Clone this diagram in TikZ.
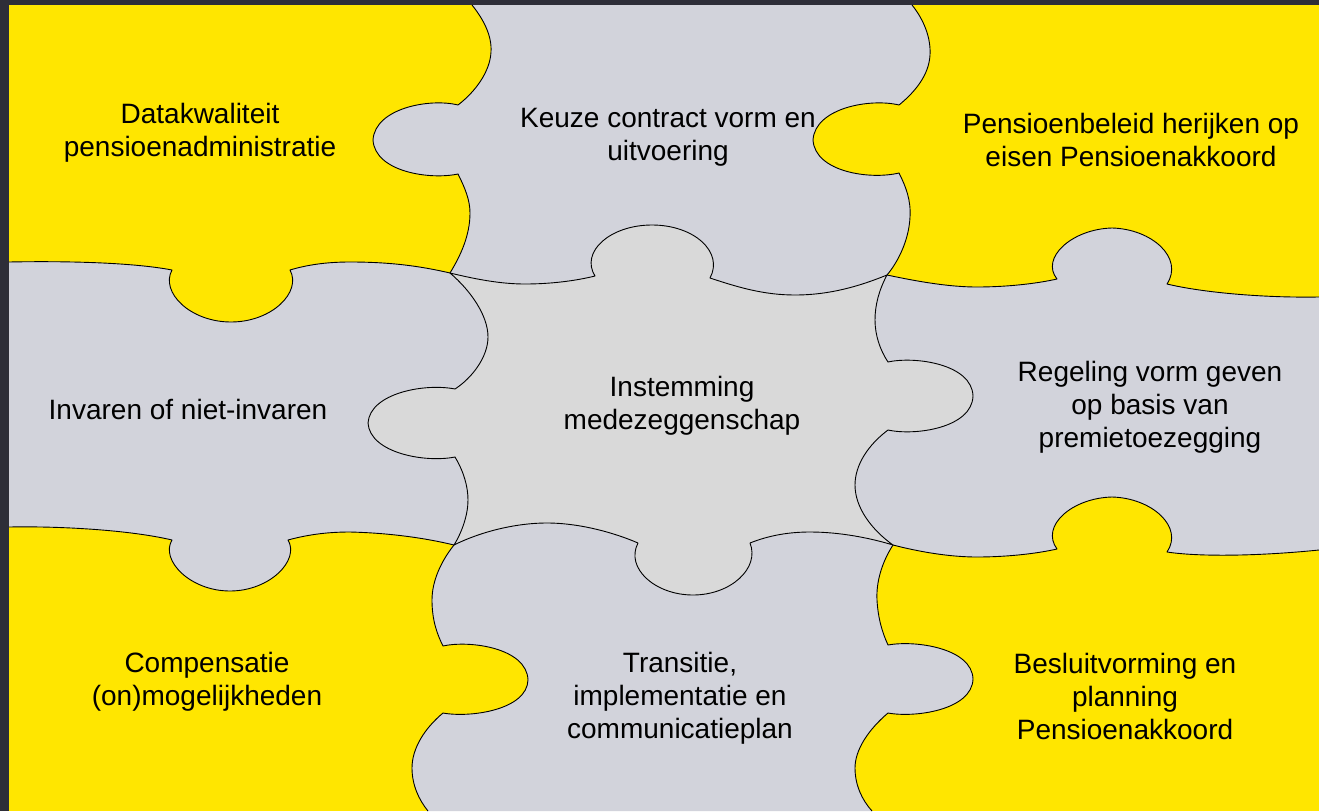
\documentclass[tikz,border=0pt]{standalone}
\usepackage{fontspec}
\setmainfont{Liberation Sans}
\definecolor{bgdark}{HTML}{2E2E38}
\definecolor{eyyellow}{HTML}{FFE600}
\definecolor{piecegray}{HTML}{D2D3DB}
\definecolor{centergray}{HTML}{D9D9D9}
\def\bTCTR{.. controls (924,20) and (931,38) .. (930,55) .. controls (929,75) and (915,92) .. (899,105) .. controls (870,98) and (815,108) .. (813,140) .. controls (815,172) and (870,180) .. (899,173) .. controls (906,187) and (911,200) .. (910,217) .. controls (909,240) and (898,262) .. (887,275)}
\def\bTRMR{.. controls (920,282) and (950,287) .. (977,287) .. controls (1005,287) and (1035,284) .. (1057,279) .. controls (1040,258) and (1072,229) .. (1112,228) .. controls (1152,229) and (1184,258) .. (1167,284) .. controls (1200,292) and (1260,298) .. (1319,297)}
\def\bBRMR{.. controls (1260,556) and (1200,557) .. (1167,552) .. controls (1184,527) and (1152,498) .. (1112,497) .. controls (1072,498) and (1040,526) .. (1057,549) .. controls (1035,554) and (1005,557) .. (977,557) .. controls (950,557) and (920,552) .. (893,545)}
\def\bBCBR{.. controls (882,562) and (876,582) .. (877,600) .. controls (878,618) and (882,632) .. (888,645) .. controls (915,640) and (972,648) .. (973,679) .. controls (972,710) and (915,718) .. (888,713) .. controls (868,730) and (855,750) .. (855,768) .. controls (855,785) and (862,800) .. (872,811)}
\def\bBLBC{.. controls (419,800) and (412,785) .. (412,768) .. controls (412,748) and (425,728) .. (443,713) .. controls (470,718) and (527,710) .. (528,680) .. controls (527,648) and (470,640) .. (443,646) .. controls (437,634) and (432,620) .. (432,600) .. controls (432,580) and (442,560) .. (454,545)}
\def\bMLBL{.. controls (425,538) and (390,533) .. (350,532) .. controls (330,532) and (310,534) .. (288,540) .. controls (300,560) and (270,591) .. (230,591) .. controls (190,591) and (160,560) .. (172,540) .. controls (130,530) and (60,526) .. (9,527)}
\def\bTLML{.. controls (60,261) and (130,262) .. (172,270) .. controls (160,292) and (190,322) .. (231,322) .. controls (272,322) and (302,292) .. (290,270) .. controls (310,264) and (330,262) .. (350,262) .. controls (390,262) and (420,266) .. (450,273)}
\def\bTLTC{.. controls (461,255) and (470,235) .. (470,213) .. controls (470,200) and (465,188) .. (458,174) .. controls (430,180) and (375,172) .. (373,140) .. controls (375,108) and (430,98) .. (458,105) .. controls (475,92) and (490,72) .. (491,52) .. controls (492,36) and (484,20) .. (472,5)}
\def\bTCC{.. controls (475,279) and (500,284) .. (525,284) .. controls (550,284) and (575,281) .. (595,276) .. controls (580,252) and (610,225) .. (652,225) .. controls (694,225) and (724,252) .. (710,278) .. controls (740,288) and (765,295) .. (795,295) .. controls (830,295) and (860,286) .. (887,275)}
\def\bCMR{.. controls (879,290) and (875,305) .. (875,320) .. controls (875,335) and (880,350) .. (888,362) .. controls (915,356) and (972,364) .. (973,396) .. controls (972,428) and (915,436) .. (888,430) .. controls (868,445) and (855,465) .. (855,485) .. controls (855,508) and (872,530) .. (893,545)}
\def\bBCC{.. controls (870,538) and (840,532) .. (810,532) .. controls (790,532) and (770,535) .. (750,543) .. controls (760,568) and (731,595) .. (693,595) .. controls (655,595) and (625,568) .. (638,543) .. controls (615,533) and (580,523) .. (547,523) .. controls (515,523) and (480,532) .. (454,545)}
\def\bMLC{.. controls (462,532) and (468,515) .. (468,500) .. controls (468,487) and (464,472) .. (455,457) .. controls (425,463) and (370,453) .. (368,423) .. controls (370,393) and (425,383) .. (455,389) .. controls (472,378) and (488,357) .. (488,337) .. controls (488,315) and (470,290) .. (450,273)}
\begin{document}
\begin{tikzpicture}[x=1pt,y=-1pt,
  seam/.style={draw=black,line width=0.9pt,line join=round},
  piecetext/.style={align=center,font=\fontsize{28}{33}\selectfont,text=black,inner sep=0pt}]
\useasboundingbox (0,0) rectangle (1319,811);
\fill[bgdark] (0,0) rectangle (1319,811);
\fill[eyyellow] (9,5) rectangle (1319,811);
% gray cross (top, left, right, bottom pieces and centre)
\fill[piecegray] (472,5) -- (912,5) \bTCTR \bTRMR -- (1319,550) \bBRMR \bBCBR -- (428,811) \bBLBC \bMLBL -- (9,262) \bTLML \bTLTC -- cycle;
\fill[centergray] (450,273) \bTCC \bCMR \bBCC \bMLC -- cycle;
% seams
\draw[seam] (912,5) \bTCTR;
\draw[seam] (887,275) \bTRMR;
\draw[seam] (1319,550) \bBRMR;
\draw[seam] (893,545) \bBCBR;
\draw[seam] (428,811) \bBLBC;
\draw[seam] (454,545) \bMLBL;
\draw[seam] (9,262) \bTLML;
\draw[seam] (450,273) \bTLTC;
\draw[seam] (450,273) \bTCC \bCMR \bBCC \bMLC -- cycle;
% texts
\node[piecetext] (tl) at (200,133) {Datakwaliteit\\pensioenadministratie};
\node[piecetext] (tc) at (668,137) {Keuze contract vorm en\\uitvoering};
\node[piecetext] (tr) at (1131,140) {Pensioenbeleid herijken op\\eisen Pensioenakkoord};
\node[piecetext] (ml) at (188,409) {Invaren of niet-invaren};
\node[piecetext] (cc) at (682,406) {Instemming\\medezeggenschap};
\node[piecetext] (mr) at (1150,407) {Regeling vorm geven\\op basis van\\premietoezegging};
\node[piecetext] (bl) at (207,682) {Compensatie\\(on)mogelijkheden};
\node[piecetext] (bc) at (680,698) {Transitie,\\implementatie en\\communicatieplan};
\node[piecetext] (br) at (1125,696) {Besluitvorming en\\planning\\Pensioenakkoord};
\end{tikzpicture}
\end{document}
